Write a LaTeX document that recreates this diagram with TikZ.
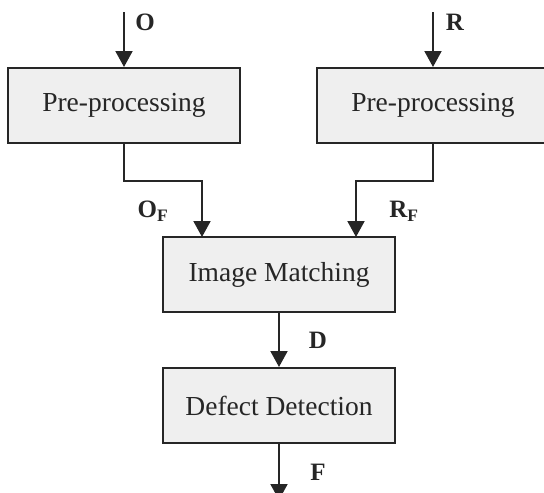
\documentclass[tikz,border=0pt]{standalone}
\usepackage{fontspec}
\setmainfont{Liberation Serif}
\usetikzlibrary{arrows.meta}
\definecolor{boxfill}{HTML}{EFEFEF}
\definecolor{ink}{HTML}{262626}
\begin{document}
\begin{tikzpicture}[x=1pt,y=-1pt,
  procbox/.style={draw=ink,fill=boxfill,line width=2pt,minimum width=232pt,minimum height=75pt,inner sep=0pt,text=ink,font=\fontsize{27.5}{32}\selectfont},
  flow/.style={draw=ink,line width=2pt,-{Triangle[length=16pt,width=17pt]}},
  link/.style={draw=ink,line width=2pt},
  lbl/.style={text=ink,font=\fontsize{25}{30}\selectfont\bfseries,inner sep=0pt}]
\clip (0,0) rectangle (544,493);
\node[procbox] (pre1) at (124,105.5) {Pre-processing};
\node[procbox] (pre2) at (433,105.5) {Pre-processing};
\node[procbox] (match) at (279,274.5) {Image Matching};
\node[procbox] (detect) at (279,405.5) {Defect Detection};
\coordinate (inO) at (124,12);
\coordinate (inR) at (433,12);
\coordinate (outF) at (279,500);
\coordinate (bendL) at (124,181);
\coordinate (bendR) at (433,181);
\coordinate (mL) at (202,237);
\coordinate (mR) at (356,237);
\draw[flow] (inO) -- (pre1.north);
\draw[flow] (inR) -- (pre2.north);
\draw[flow] (pre1.south) -- (bendL) -| (mL);
\draw[flow] (pre2.south) -- (bendR) -| (mR);
\draw[flow] (match.south) -- (detect.north);
\draw[flow] (detect.south) -- (outF);
\node[lbl] (lO) at (145,22) {O};
\node[lbl] (lR) at (455,22) {R};
\node[lbl] (lOF) at (153,211) {O\textsubscript{F}};
\node[lbl] (lRF) at (404,211) {R\textsubscript{F}};
\node[lbl] (lD) at (318,340) {D};
\node[lbl] (lF) at (318,472) {F};
\end{tikzpicture}
\end{document}
